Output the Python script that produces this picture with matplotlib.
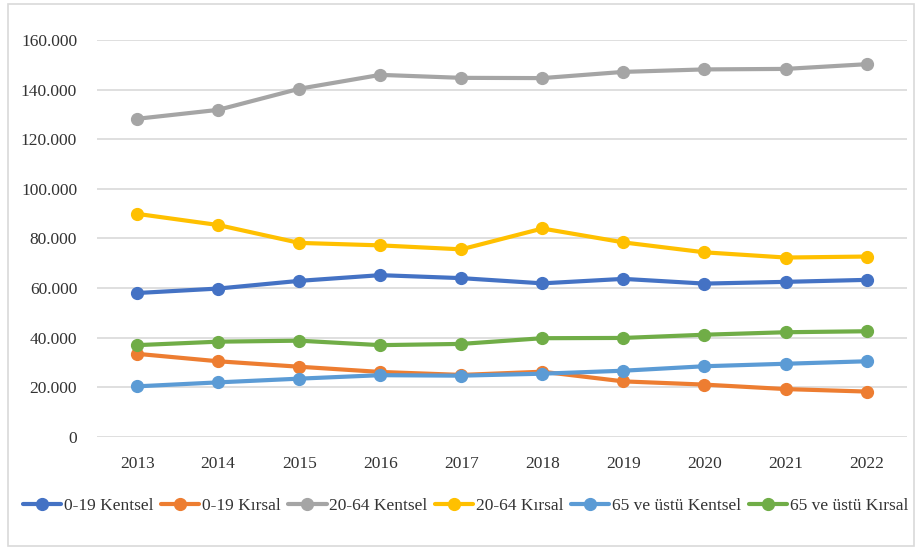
import matplotlib.pyplot as plt
from matplotlib.patches import Rectangle
from matplotlib.ticker import FuncFormatter

years = [2013, 2014, 2015, 2016, 2017, 2018, 2019, 2020, 2021, 2022]

kentsel_0_19 = [58000, 59800, 62900, 65200, 64000, 61900, 63700, 61800, 62500, 63300]
kirsal_0_19 = [33500, 30500, 28300, 26200, 25000, 26300, 22400, 21100, 19300, 18300]
kentsel_20_64 = [128200, 131800, 140300, 145900, 144700, 144600, 147100, 148100, 148300, 150200]
kirsal_20_64 = [89900, 85400, 78200, 77200, 75600, 84000, 78400, 74400, 72300, 72700]
kentsel_65 = [20400, 22000, 23500, 24900, 24700, 25500, 26700, 28500, 29500, 30500]
kirsal_65 = [37000, 38400, 38800, 37000, 37500, 39800, 39900, 41200, 42200, 42600]

series = [
    ('0-19 Kentsel', kentsel_0_19, '#4472C4'),
    ('0-19 Kırsal', kirsal_0_19, '#ED7D31'),
    ('20-64 Kentsel', kentsel_20_64, '#A5A5A5'),
    ('20-64 Kırsal', kirsal_20_64, '#FFC000'),
    ('65 ve üstü Kentsel', kentsel_65, '#5B9BD5'),
    ('65 ve üstü Kırsal', kirsal_65, '#70AD47'),
]

plt.rcParams['font.family'] = ['Liberation Serif', 'DejaVu Serif']

fig = plt.figure(figsize=(9.2, 5.5), dpi=100)
ax = fig.add_axes([0.105, 0.2055, 0.881, 0.722])

x = list(range(len(years)))
for label, vals, col in series:
    ax.plot(x, vals, color=col, lw=3, marker='o', markersize=8.5,
            label=label, clip_on=False, solid_capstyle='round')

ax.set_xlim(-0.5, len(years) - 0.5)
ax.set_ylim(0, 160000)
ax.set_yticks(range(0, 160001, 20000))
# Turkish thousands separator
ax.yaxis.set_major_formatter(FuncFormatter(lambda v, p: '0' if v == 0 else f'{int(v):,}'.replace(',', '.')))
ax.set_xticks(x)
ax.set_xticklabels([str(y) for y in years])
ax.tick_params(length=0, labelsize=12.5, colors='#333333', pad=14)
ax.tick_params(axis='y', pad=14)
ax.grid(axis='y', color='#D9D9D9', lw=1.2)
ax.set_axisbelow(True)
for s in ax.spines.values():
    s.set_visible(False)

fig.legend(loc='center', bbox_to_anchor=(0.506, 0.08), ncol=6, frameon=False,
           fontsize=12.5, handlelength=2.2, handletextpad=0.15, columnspacing=0.45,
           labelcolor='#333333')

fig.add_artist(Rectangle((0.009, 0.007), 0.985, 0.985, transform=fig.transFigure,
                         fill=False, edgecolor='#D9D9D9', lw=1.2))

fig.savefig('out.png', dpi=100)
